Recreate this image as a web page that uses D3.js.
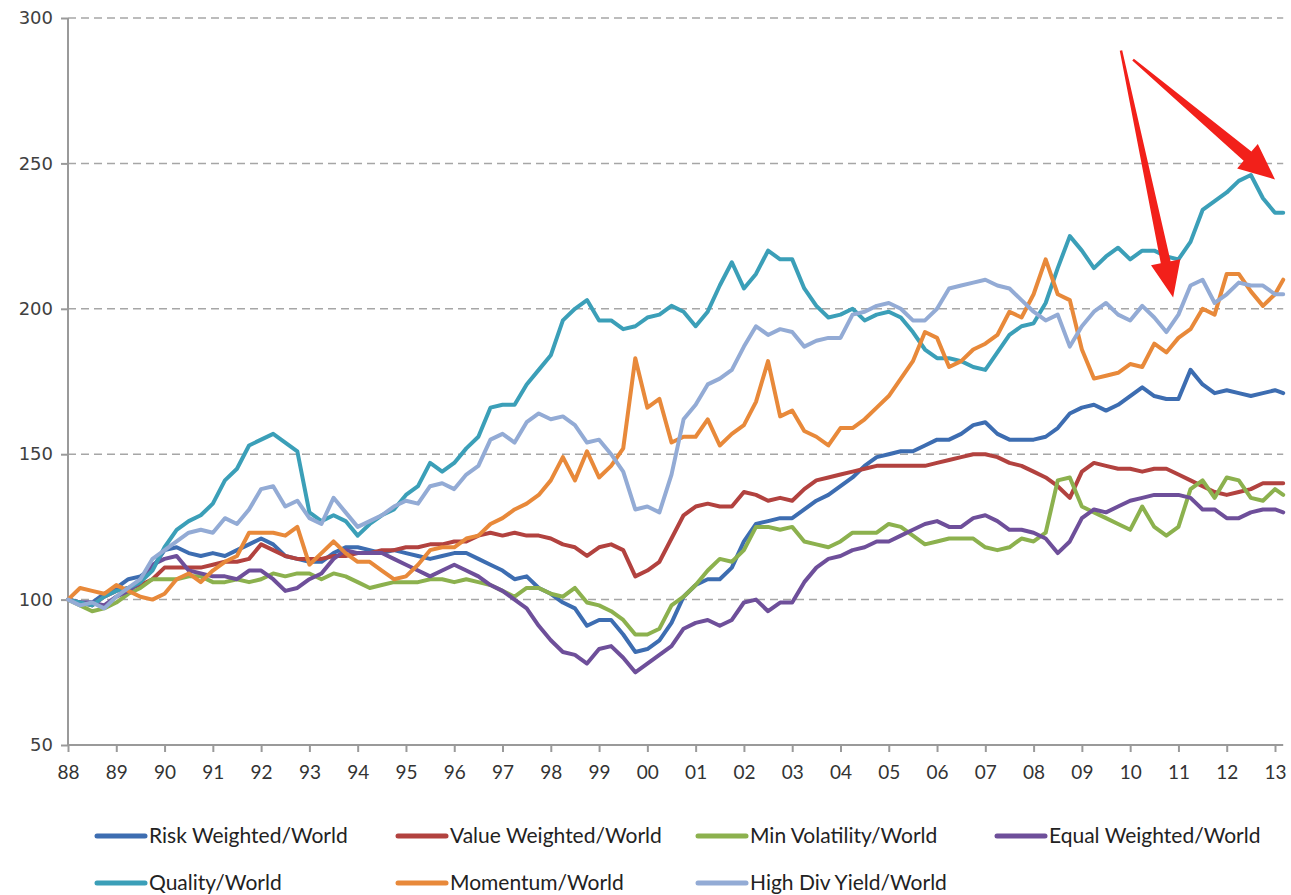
<!DOCTYPE html>
<html lang="en">
<head>
<meta charset="UTF-8">
<title>Factor indices relative to World</title>
<script src="https://d3js.org/d3.v7.min.js"></script>
<style>
  body { margin: 0; background: #fff; }
  .axis-y text { font-family: "DejaVu Sans", sans-serif; font-size: 18px; fill: #404040; }
  .axis-x text { font-family: Lato, sans-serif; font-size: 19px; fill: #333; }
  .axis path, .axis line { stroke: #9a9a9a; stroke-width: 2px; }
  .legend text { font-family: Lato, sans-serif; font-size: 21px; fill: #222; }
</style>
</head>
<body>
<div id="chart"></div>
<script>
// quarterly readings, Q1 1988 .. Q1 2013, plus last point early 2013
const dates = d3.range(101).map(i => 1988 + i / 4).concat([2013.17]);
const yearTicks = ["88","89","90","91","92","93","94","95","96","97","98","99","00",
                   "01","02","03","04","05","06","07","08","09","10","11","12","13"];
const valueTicks = [50, 100, 150, 200, 250, 300];

const riskWeighted = [
  100, 99, 99, 102,   104, 107, 108, 111,   117, 118, 116, 115,   116, 115, 117, 119,
  121, 119, 115, 114,   113, 113, 116, 118,   118, 117, 116, 117,   116, 115, 114, 115,
  116, 116, 114, 112,   110, 107, 108, 104,   102, 99, 97, 91,   93, 93, 88, 82,
  83, 86, 92, 101,   105, 107, 107, 111,   120, 126, 127, 128,   128, 131, 134, 136,
  139, 142, 146, 149,   150, 151, 151, 153,   155, 155, 157, 160,   161, 157, 155, 155,
  155, 156, 159, 164,   166, 167, 165, 167,   170, 173, 170, 169,   169, 179, 174, 171,
  172, 171, 170, 171,   172, 171];
const valueWeighted = [
  100, 99, 98, 101,   103, 104, 105, 107,   111, 111, 111, 111,   112, 113, 113, 114,
  119, 117, 115, 114,   114, 114, 115, 115,   116, 116, 117, 117,   118, 118, 119, 119,
  120, 120, 122, 123,   122, 123, 122, 122,   121, 119, 118, 115,   118, 119, 117, 108,
  110, 113, 121, 129,   132, 133, 132, 132,   137, 136, 134, 135,   134, 138, 141, 142,
  143, 144, 145, 146,   146, 146, 146, 146,   147, 148, 149, 150,   150, 149, 147, 146,
  144, 142, 139, 135,   144, 147, 146, 145,   145, 144, 145, 145,   143, 141, 139, 137,
  136, 137, 138, 140,   140, 140];
const minVolatility = [
  100, 98, 96, 97,   99, 102, 104, 107,   107, 107, 108, 108,   106, 106, 107, 106,
  107, 109, 108, 109,   109, 107, 109, 108,   106, 104, 105, 106,   106, 106, 107, 107,
  106, 107, 106, 105,   103, 101, 104, 104,   102, 101, 104, 99,   98, 96, 93, 88,
  88, 90, 98, 101,   105, 110, 114, 113,   117, 125, 125, 124,   125, 120, 119, 118,
  120, 123, 123, 123,   126, 125, 122, 119,   120, 121, 121, 121,   118, 117, 118, 121,
  120, 123, 141, 142,   132, 130, 128, 126,   124, 132, 125, 122,   125, 138, 141, 135,
  142, 141, 135, 134,   138, 136];
const equalWeighted = [
  100, 99, 99, 98,   101, 103, 106, 112,   114, 115, 110, 109,   108, 108, 107, 110,
  110, 107, 103, 104,   107, 109, 114, 117,   116, 116, 116, 114,   112, 110, 108, 110,
  112, 110, 108, 105,   103, 100, 97, 91,   86, 82, 81, 78,   83, 84, 80, 75,
  78, 81, 84, 90,   92, 93, 91, 93,   99, 100, 96, 99,   99, 106, 111, 114,
  115, 117, 118, 120,   120, 122, 124, 126,   127, 125, 125, 128,   129, 127, 124, 124,
  123, 121, 116, 120,   128, 131, 130, 132,   134, 135, 136, 136,   136, 135, 131, 131,
  128, 128, 130, 131,   131, 130];
const quality = [
  100, 99, 98, 101,   103, 104, 106, 110,   118, 124, 127, 129,   133, 141, 145, 153,
  155, 157, 154, 151,   130, 127, 129, 127,   122, 126, 129, 131,   136, 139, 147, 144,
  147, 152, 156, 166,   167, 167, 174, 179,   184, 196, 200, 203,   196, 196, 193, 194,
  197, 198, 201, 199,   194, 199, 208, 216,   207, 212, 220, 217,   217, 207, 201, 197,
  198, 200, 196, 198,   199, 197, 192, 186,   183, 183, 182, 180,   179, 185, 191, 194,
  195, 202, 214, 225,   220, 214, 218, 221,   217, 220, 220, 218,   217, 223, 234, 237,
  240, 244, 246, 238,   233, 233];
const momentum = [
  100, 104, 103, 102,   105, 103, 101, 100,   102, 107, 109, 106,   110, 113, 115, 123,
  123, 123, 122, 125,   112, 116, 120, 116,   113, 113, 110, 107,   108, 112, 117, 118,
  118, 121, 122, 126,   128, 131, 133, 136,   141, 149, 141, 151,   142, 146, 152, 183,
  166, 169, 154, 156,   156, 162, 153, 157,   160, 168, 182, 163,   165, 158, 156, 153,
  159, 159, 162, 166,   170, 176, 182, 192,   190, 180, 182, 186,   188, 191, 199, 197,
  205, 217, 205, 203,   186, 176, 177, 178,   181, 180, 188, 185,   190, 193, 200, 198,
  212, 212, 206, 201,   205, 210];
const highDivYield = [
  100, 98, 99, 97,   101, 104, 107, 114,   117, 120, 123, 124,   123, 128, 126, 131,
  138, 139, 132, 134,   128, 126, 135, 130,   125, 127, 129, 132,   134, 133, 139, 140,
  138, 143, 146, 155,   157, 154, 161, 164,   162, 163, 160, 154,   155, 150, 144, 131,
  132, 130, 143, 162,   167, 174, 176, 179,   187, 194, 191, 193,   192, 187, 189, 190,
  190, 198, 199, 201,   202, 200, 196, 196,   200, 207, 208, 209,   210, 208, 207, 203,
  199, 196, 198, 187,   194, 199, 202, 198,   196, 201, 197, 192,   198, 208, 210, 202,
  205, 209, 208, 208,   205, 205];

const seriesNames = ["Risk Weighted/World", "Value Weighted/World", "Min Volatility/World",
  "Equal Weighted/World", "Quality/World", "Momentum/World", "High Div Yield/World"];
const seriesValues = [riskWeighted, valueWeighted, minVolatility, equalWeighted,
  quality, momentum, highDivYield];
const seriesColors = ["#3d6db1", "#b2423f", "#8cb14e", "#6e4f9a", "#3b9fb8", "#e8893a", "#93abd5"];

const width = 1291, height = 895;

const svg = d3.select("#chart").append("svg")
  .attr("width", width)
  .attr("height", height)
  .style("background", "#fff");

const x = d3.scaleLinear().domain([1988, 2013]).range([68, 1275]);
const y = d3.scaleLinear().domain([50, 300]).range([745, 18]);
const xEnd = x(2013.17);

// dashed gridlines
svg.append("g")
  .selectAll("line")
  .data(valueTicks.slice(1))
  .enter().append("line")
  .attr("x1", x(1988)).attr("x2", xEnd)
  .attr("y1", d => y(d)).attr("y2", d => y(d))
  .attr("stroke", "#a6a6a6")
  .attr("stroke-width", 1.5)
  .attr("stroke-dasharray", "8,5");

// axes
const yAxis = svg.append("g")
  .attr("class", "axis axis-y")
  .attr("transform", `translate(${x(1988)},0)`)
  .call(d3.axisLeft(y).tickValues(valueTicks).tickSize(7).tickSizeOuter(0).tickPadding(8));
yAxis.select(".domain").remove();
svg.append("line")
  .attr("x1", x(1988)).attr("x2", x(1988))
  .attr("y1", y(300)).attr("y2", y(50))
  .attr("stroke", "#9a9a9a").attr("stroke-width", 2);

const xAxis = svg.append("g")
  .attr("class", "axis axis-x")
  .attr("transform", `translate(0,${y(50)})`)
  .call(d3.axisBottom(x)
    .tickValues(d3.range(1988, 2014))
    .tickFormat((d, i) => yearTicks[i])
    .tickSize(7).tickSizeOuter(0).tickPadding(14));
xAxis.select(".domain").remove();
svg.append("line")
  .attr("x1", x(1988)).attr("x2", xEnd)
  .attr("y1", y(50)).attr("y2", y(50))
  .attr("stroke", "#9a9a9a").attr("stroke-width", 2);

// series
const line = d3.line()
  .x((d, i) => x(dates[i]))
  .y(d => y(d));

svg.append("g")
  .selectAll("path")
  .data(seriesValues)
  .enter().append("path")
  .attr("d", d => line(d))
  .attr("fill", "none")
  .attr("stroke", (d, i) => seriesColors[i])
  .attr("stroke-width", 4)
  .attr("stroke-linejoin", "round")
  .attr("stroke-linecap", "round");

// legend
const legendX = [97, 398, 698, 997];
const legendY = [836, 883];
const legend = svg.append("g").attr("class", "legend")
  .selectAll("g")
  .data(seriesNames)
  .enter().append("g")
  .attr("transform", (d, i) => `translate(${legendX[i % 4]},${legendY[Math.floor(i / 4)]})`);
legend.append("line")
  .attr("x1", 0).attr("x2", 48)
  .attr("stroke", (d, i) => seriesColors[i])
  .attr("stroke-width", 5)
  .attr("stroke-linecap", "round");
legend.append("text")
  .attr("x", 52)
  .attr("dy", "0.35em")
  .text(d => d);

// red annotation arrows, anchored in chart coordinates
function arrowPath(x1, y1, x2, y2, tailW, neckW, headW, headL) {
  const dx = x2 - x1, dy = y2 - y1, len = Math.hypot(dx, dy);
  const ux = dx / len, uy = dy / len, nx = -uy, ny = ux;
  const bx = x2 - ux * headL, by = y2 - uy * headL;
  const pts = [
    [x1 + nx * tailW / 2, y1 + ny * tailW / 2],
    [bx + nx * neckW / 2, by + ny * neckW / 2],
    [bx + nx * headW / 2, by + ny * headW / 2],
    [x2, y2],
    [bx - nx * headW / 2, by - ny * headW / 2],
    [bx - nx * neckW / 2, by - ny * neckW / 2],
    [x1 - nx * tailW / 2, y1 - ny * tailW / 2]
  ];
  return "M" + pts.map(p => p.join(",")).join("L") + "Z";
}
const arrows = [
  { from: [2009.81, 288.8], to: [2010.89, 203.9], neck: 10, head: 30, len: 36 },
  { from: [2010.06, 285.7], to: [2013.0, 244.5], neck: 12, head: 32, len: 36 }
];
svg.append("g")
  .selectAll("path")
  .data(arrows)
  .enter().append("path")
  .attr("d", a => arrowPath(x(a.from[0]), y(a.from[1]), x(a.to[0]), y(a.to[1]), 2.5, a.neck, a.head, a.len))
  .attr("fill", "#f2201a");
</script>
</body>
</html>
